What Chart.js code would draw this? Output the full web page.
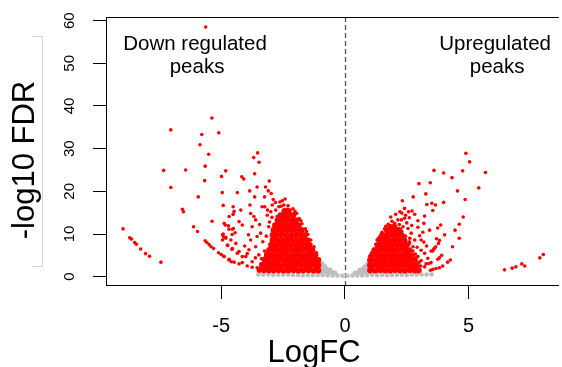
<!DOCTYPE html>
<html>
<head>
<meta charset="utf-8">
<script src="https://cdn.jsdelivr.net/npm/chart.js@4.4.1/dist/chart.umd.min.js"></script>
<style>
  html, body { margin: 0; padding: 0; background: #ffffff; overflow: hidden; }
  #wrap { width: 562px; height: 367px; position: relative; }
</style>
</head>
<body>
<div id="wrap"><canvas id="c" width="562" height="367"></canvas></div>
<script>
// ---------- data ----------
const xTicks = [-5, 0, 5];
const xTickLabels = ['-5', '0', '5'];
const yTicks = [0, 10, 20, 30, 40, 50, 60];
const yTickLabels = ['0', '10', '20', '30', '40', '50', '60'];
const xTitle = 'LogFC';
const yTitle = '-log10 FDR';
const downLabel = ['Down regulated', 'peaks'];
const upLabel = ['Upregulated', 'peaks'];

// significant, down regulated (scattered peaks)
const downPeaks = [
  [-5.63,58.5],[-5.38,37.2],[-7.04,34.4],[-5.79,33.3],[-5.10,33.7],[-5.86,30.9],[-5.51,28.7],
  [-5.65,25.9],[-7.33,24.9],[-6.44,25.0],[-4.82,24.8],[-4.99,23.5],[-5.67,22.5],[-7.04,20.9],
  [-4.96,19.7],[-5.93,18.7],[-4.92,16.7],[-4.52,16.4],[-6.57,15.8],[-6.53,15.2],[-4.52,14.6],
  [-5.37,13.0],[-4.84,12.1],[-6.12,11.7],[-5.96,10.6],[-8.97,11.2],[-8.70,9.1],[-8.63,8.8],
  [-8.50,8.0],[-8.43,7.6],[-8.26,6.5],[-8.06,5.4],[-7.90,4.8],[-7.44,3.4],
  [-5.65,8.4],[-5.58,8.0],[-5.49,7.5],[-5.41,7.0],[-5.31,6.6],[-5.11,5.6],[-5.00,5.2],[-4.90,4.8],
  [-4.69,3.9],[-4.60,3.5],[-4.69,11.1],[-4.95,9.8],[-4.91,9.3],[-4.56,9.9],[-4.51,11.3],[-4.82,9.0],
  [-4.74,7.3],[-4.57,6.4],
  [-3.53,29.0],[-3.69,27.9],[-3.47,26.8],[-4.17,23.4],[-4.09,22.9],[-3.65,24.1],[-3.06,22.4],
  [-3.21,21.0],[-3.10,20.1],[-2.98,19.5],[-3.55,21.0],[-3.85,20.1],[-4.35,19.7],[-3.65,18.7],
  [-3.25,18.7],[-2.90,18.1],[-2.81,17.4],[-2.63,17.5],[-2.53,17.8],[-2.42,18.2],[-3.84,16.8],
  [-3.24,16.4],[-3.13,15.6],[-2.34,15.8],[-2.22,15.6],[-2.06,14.4],[-4.48,15.3],[-4.21,15.6],
  [-3.81,14.8],[-3.68,14.1],[-4.28,12.9],[-4.15,12.1],[-4.71,11.9],[-4.55,11.1],[-4.44,10.3],
  [-4.92,10.0],[-4.82,9.2],[-4.68,14.1],[-4.88,12.5],
  [-3.75,11.7],[-3.61,13.3],[-3.41,10.2],[-3.81,8.6],[-3.61,7.0],[-3.88,6.3],[-3.48,5.1],
  [-4.01,4.7],[-3.75,3.5],[-4.15,3.3],[-4.28,5.9],[-4.41,7.8],[-4.61,8.6],[-3.14,14.4],
  [-3.35,16.4],[-2.94,16.8],[-2.67,16.4],[-2.47,16.8],[-2.74,14.1],[-3.08,11.7],
  [-4.88,4.7],[-4.68,4.1],[-4.48,3.4],[-4.28,3.0],[-3.95,2.5],[-3.75,2.2],[-3.55,2.1],
  [-4.95,8.6],[-4.75,7.4],[-4.55,6.6],[-4.35,5.5],[-4.15,4.7],
  [-3.32,8.2],[-3.25,6.0],[-3.38,4.2],[-3.18,9.5],[-3.05,12.8],[-2.95,13.9],[-3.55,9.4],
  [-3.45,12.2],[-3.90,9.8],[-4.05,7.2],[-3.95,5.4],[-3.62,4.4],
  [-1.15,5.6],[-1.25,7.0],[-1.38,8.6],[-1.50,9.9],[-1.60,11.2],[-1.74,12.4],[-1.85,13.6],
  [-1.95,14.8],[-2.10,15.9],[-2.30,16.6],[-2.58,16.5],[-2.80,15.6],[-3.00,15.2],
  [-1.30,6.0],[-1.55,10.6],[-1.78,13.1],[-2.02,15.3]
];

// significant, down regulated (dense core of the cloud)
const downCore = [
  [-1.08,1.5],[-1.27,1.45],[-1.47,1.55],[-1.68,1.5],[-1.88,1.45],[-2.07,1.55],[-2.28,1.5],
  [-2.48,1.45],[-2.68,1.55],[-2.88,1.5],[-3.07,1.5],[-3.27,1.55],[-3.45,1.6],
  [-1.08,2.7],[-1.18,2.65],[-1.38,2.75],[-1.58,2.7],[-1.78,2.65],[-1.98,2.75],[-2.18,2.7],
  [-2.38,2.7],[-2.58,2.65],[-2.78,2.75],[-2.98,2.7],[-3.18,2.7],[-3.35,2.8],
  [-1.08,3.9],[-1.27,3.85],[-1.48,3.95],[-1.68,3.9],[-1.88,3.85],[-2.08,3.95],[-2.28,3.9],
  [-2.48,3.85],[-2.68,3.95],[-2.88,3.9],[-3.08,3.9],[-3.25,4.0],
  [-1.20,5.0],[-1.38,5.05],[-1.58,4.95],[-1.78,5.0],[-1.98,5.05],[-2.18,4.95],[-2.38,5.0],
  [-2.58,5.05],[-2.78,4.95],[-2.98,5.0],[-3.15,5.1],
  [-1.32,6.2],[-1.48,6.15],[-1.68,6.25],[-1.88,6.2],[-2.08,6.15],[-2.28,6.25],[-2.48,6.2],
  [-2.68,6.15],[-2.88,6.25],[-3.06,6.2],
  [-1.43,7.4],[-1.58,7.35],[-1.78,7.45],[-1.98,7.4],[-2.18,7.35],[-2.38,7.45],[-2.58,7.4],
  [-2.78,7.35],[-2.98,7.45],
  [-1.52,8.5],[-1.72,8.55],[-1.92,8.45],[-2.12,8.5],[-2.32,8.55],[-2.52,8.45],[-2.72,8.5],[-2.92,8.55],
  [-1.63,9.7],[-1.78,9.65],[-1.98,9.75],[-2.18,9.7],[-2.38,9.65],[-2.58,9.75],[-2.78,9.7],[-2.92,9.75],
  [-1.75,10.9],[-1.92,10.85],[-2.12,10.95],[-2.32,10.9],[-2.52,10.85],[-2.72,10.95],[-2.88,10.9],
  [-1.88,12.0],[-2.06,12.05],[-2.26,11.95],[-2.46,12.0],[-2.66,12.05],[-2.82,12.0],
  [-1.98,13.2],[-2.16,13.15],[-2.36,13.25],[-2.56,13.2],[-2.72,13.15],
  [-2.10,14.4],[-2.28,14.45],[-2.44,14.35],[-2.60,14.4],
  [-2.28,15.3],[-2.44,15.35]
];

// significant, up regulated (scattered peaks)
const upPeaks = [
  [4.89,28.9],[5.04,26.9],[3.60,24.9],[3.99,24.3],[4.33,23.2],[4.76,24.8],[5.68,24.4],
  [2.99,21.8],[3.45,22.0],[3.27,19.4],[4.55,20.1],[5.41,20.8],[2.32,17.8],[2.76,18.7],
  [3.31,16.9],[3.51,17.2],[3.66,16.8],[3.99,17.4],[4.86,18.1],[2.41,16.0],[2.57,15.2],
  [2.71,15.4],[2.82,14.6],[3.55,15.5],[2.22,15.2],[2.28,13.3],[2.41,13.7],[2.95,13.1],
  [3.22,14.2],[3.19,12.5],[4.78,14.0],[2.95,11.6],[3.42,10.9],[3.75,11.4],[4.45,10.9],
  [3.02,9.6],[3.70,8.9],[3.82,8.5],[3.19,8.1],[3.30,7.2],[4.35,7.0],[2.92,6.9],[3.08,6.2],
  [3.55,6.0],[3.63,6.7],[3.91,5.0],[3.82,4.4],[3.75,4.1],[4.26,3.9],[4.15,3.4],[3.95,2.5],
  [3.82,2.1],[3.68,1.9],[3.55,1.7],[3.46,1.5],[3.22,2.3],[3.06,2.5],[2.82,2.7],
  [3.87,12.1],[4.62,12.3],[4.03,9.8],[3.78,7.8],[3.67,7.0],[3.59,6.5],[3.48,6.0],[4.62,9.0],
  [3.39,3.1],
  [6.45,1.6],[6.76,2.0],[6.91,2.3],[7.15,3.0],[7.27,2.5],[7.88,4.4],[8.02,5.2],
  [2.14,13.3],[2.01,12.5],[2.35,11.7],[2.55,11.3],[2.68,10.2],[2.82,8.6],[2.61,7.8],[3.08,8.6],
  [3.22,5.5],[2.95,4.7],[3.08,3.8],[3.35,4.3],[3.48,3.3],[3.28,3.0],[2.75,7.0],
  [1.75,12.3],[1.60,11.2],[1.90,13.0],[2.50,12.6],[2.62,9.0],[2.45,14.4],[1.45,9.8],[1.30,8.6],
  [2.85,5.3],[3.15,10.4],[2.05,14.6],[2.20,12.2],[1.85,14.0],[2.60,13.8],[2.30,14.9],[2.70,12.0],
  [1.00,4.8],[1.15,6.3],[1.25,7.6],[1.35,9.0],[1.50,10.4],[1.65,11.8],[2.30,10.6],[2.45,9.5],
  [2.60,8.2],[2.75,6.0],[2.90,4.6],[3.00,3.4],[1.08,5.6],[1.42,9.4]
];

// significant, up regulated (dense core of the cloud)
const upCore = [
  [1.02,1.5],[1.22,1.45],[1.42,1.55],[1.62,1.5],[1.82,1.45],[2.02,1.55],[2.22,1.5],[2.42,1.45],
  [2.62,1.55],[2.82,1.5],[2.98,1.5],
  [1.02,2.7],[1.12,2.65],[1.32,2.75],[1.52,2.7],[1.72,2.65],[1.92,2.75],[2.12,2.7],[2.32,2.65],
  [2.52,2.75],[2.72,2.7],[2.90,2.7],
  [1.02,3.9],[1.22,3.85],[1.42,3.95],[1.62,3.9],[1.82,3.85],[2.02,3.95],[2.22,3.9],[2.42,3.85],
  [2.62,3.95],[2.82,3.9],
  [1.10,5.0],[1.32,5.05],[1.52,4.95],[1.72,5.0],[1.92,5.05],[2.12,4.95],[2.32,5.0],[2.52,5.05],[2.70,4.95],
  [1.20,6.2],[1.40,6.15],[1.60,6.25],[1.80,6.2],[2.00,6.15],[2.20,6.25],[2.40,6.2],[2.60,6.15],
  [1.32,7.4],[1.50,7.35],[1.70,7.45],[1.90,7.4],[2.10,7.35],[2.30,7.45],[2.50,7.4],
  [1.42,8.5],[1.60,8.55],[1.80,8.45],[2.00,8.5],[2.20,8.55],[2.40,8.45],
  [1.55,9.7],[1.72,9.65],[1.92,9.75],[2.12,9.7],[2.30,9.65],
  [1.70,10.9],[1.88,10.85],[2.06,10.95],[2.20,10.9],
  [1.85,11.6],[2.00,11.65]
];

// not significant peaks (grey)
const notSig = [
  [-3.5,0.5],[-3.3,0.45],[-3.1,0.5],[-2.9,0.4],[-2.7,0.45],[-2.5,0.4],[-2.3,0.45],[-2.1,0.4],
  [-1.9,0.4],[-1.7,0.35],[-1.5,0.4],[-1.3,0.35],[-1.1,0.4],[-0.9,0.35],[-0.7,0.3],[-0.5,0.3],
  [-0.3,0.25],[-0.1,0.2],[0.1,0.2],[0.3,0.25],[0.5,0.3],[0.7,0.3],[0.9,0.35],[1.1,0.4],
  [1.3,0.35],[1.5,0.4],[1.7,0.35],[1.9,0.4],[2.1,0.4],[2.3,0.45],[2.5,0.4],[2.7,0.45],
  [2.9,0.45],[3.1,0.5],[3.3,0.5],[3.5,0.55],
  [-0.98,1.1],[-0.88,1.1],[-0.76,1.1],[-0.64,1.05],[-0.52,1.0],[-0.4,0.9],
  [0.4,0.9],[0.52,1.0],[0.64,1.05],[0.76,1.1],[0.88,1.1],[0.98,1.1],
  [-0.96,1.8],[-0.84,1.8],[-0.72,1.75],[-0.6,1.6],
  [0.6,1.6],[0.72,1.75],[0.84,1.8],[0.96,1.8],
  [-0.99,2.5],[-0.9,2.5],[-0.8,2.4],
  [0.8,2.4],[0.9,2.5],[0.99,2.5],
  [-1.0,3.2],[-0.92,3.1],[0.92,3.1],[1.0,3.2]
];

const toXY = arr => arr.map(p => ({ x: p[0], y: p[1] }));

const FONT = "'Liberation Sans', Arial, Helvetica, sans-serif";
Chart.defaults.font.family = FONT;
Chart.defaults.color = '#000';

const RED = '#ff0000';
const GREY = '#bebebe';

const decor = {
  id: 'decor',
  beforeDatasetsDraw(chart) {
    const { ctx, chartArea: a, scales: { x } } = chart;
    ctx.save();
    ctx.strokeStyle = '#555555';
    ctx.lineWidth = 1.3;
    ctx.setLineDash([5, 3]);
    const px = Math.round(x.getPixelForValue(0)) + 0.5;
    ctx.beginPath();
    ctx.moveTo(px, a.top);
    ctx.lineTo(px, a.bottom);
    ctx.stroke();
    ctx.restore();
  },
  afterDraw(chart) {
    const { ctx, chartArea: a, scales: { x, y } } = chart;
    ctx.save();
    // top border of the plot box
    ctx.strokeStyle = '#000';
    ctx.lineWidth = 1;
    ctx.beginPath();
    ctx.moveTo(a.left, a.top + 0.5);
    ctx.lineTo(a.right, a.top + 0.5);
    ctx.stroke();

    // y tick labels, rotated like R's default
    ctx.fillStyle = '#000';
    ctx.font = '15px ' + FONT;
    ctx.textAlign = 'center';
    ctx.textBaseline = 'alphabetic';
    yTicks.forEach((v, i) => {
      ctx.save();
      ctx.translate(a.left - 32, y.getPixelForValue(v));
      ctx.rotate(-Math.PI / 2);
      ctx.fillText(yTickLabels[i], 0, 0);
      ctx.restore();
    });

    // axis titles
    ctx.font = '31px ' + FONT;
    ctx.save();
    ctx.translate(34, 160);
    ctx.rotate(-Math.PI / 2);
    ctx.fillText(yTitle, 0, 0);
    ctx.restore();
    ctx.fillText(xTitle, 314, 362);

    // annotations
    ctx.font = '20.5px ' + FONT;
    const lx = x.getPixelForValue(-6.06), rx = x.getPixelForValue(6.07);
    const l1 = y.getPixelForValue(53.1), l2 = y.getPixelForValue(47.8);
    ctx.fillText(downLabel[0], lx, l1);
    ctx.fillText(downLabel[1], lx + 2, l2);
    ctx.fillText(upLabel[0], rx, l1);
    ctx.fillText(upLabel[1], rx + 2, l2);

    // faint bracket beside the y title
    ctx.strokeStyle = '#d4d4d4';
    ctx.lineWidth = 1;
    ctx.beginPath();
    ctx.moveTo(32, 36.5); ctx.lineTo(42.5, 36.5); ctx.lineTo(42.5, 266.5); ctx.lineTo(32, 266.5);
    ctx.stroke();
    ctx.restore();
  }
};

new Chart(document.getElementById('c'), {
  type: 'scatter',
  data: {
    datasets: [
      { label: 'down', data: toXY(downPeaks), backgroundColor: RED, borderWidth: 0, pointRadius: 1.8, pointHoverRadius: 1.8, order: 1 },
      { label: 'up', data: toXY(upPeaks), backgroundColor: RED, borderWidth: 0, pointRadius: 1.8, pointHoverRadius: 1.8, order: 1 },
      { label: 'down core', data: toXY(downCore), backgroundColor: RED, borderWidth: 0, pointRadius: 3.1, pointHoverRadius: 3.1, order: 2 },
      { label: 'up core', data: toXY(upCore), backgroundColor: RED, borderWidth: 0, pointRadius: 3.1, pointHoverRadius: 3.1, order: 2 },
      { label: 'not significant', data: toXY(notSig), backgroundColor: GREY, borderWidth: 0, pointRadius: 2.3, pointHoverRadius: 2.3, order: 3 }
    ]
  },
  options: {
    responsive: false,
    animation: false,
    devicePixelRatio: 1,
    events: [],
    layout: { padding: { top: 17, right: 0, bottom: 0, left: 0 } },
    plugins: { legend: { display: false }, tooltip: { enabled: false }, title: { display: false } },
    scales: {
      x: {
        type: 'linear',
        min: -9.66,
        max: 8.65,
        afterBuildTicks: s => { s.ticks = xTicks.map(v => ({ value: v })); },
        afterFit: s => { s.height = 82; },
        ticks: {
          font: { size: 20 },
          color: '#000',
          padding: 15,
          maxRotation: 0,
          callback: (v) => xTickLabels[xTicks.indexOf(v)]
        },
        grid: { drawOnChartArea: false, drawTicks: true, tickLength: 14, color: '#000', tickColor: '#000', lineWidth: 1 },
        border: { display: true, color: '#000', width: 1 }
      },
      y: {
        type: 'linear',
        min: -1.95,
        max: 60.85,
        afterBuildTicks: s => { s.ticks = yTicks.map(v => ({ value: v })); },
        afterFit: s => { s.width = 106; },
        ticks: { display: false },
        grid: { drawOnChartArea: false, drawTicks: true, tickLength: 13, color: '#000', tickColor: '#000', lineWidth: 1 },
        border: { display: true, color: '#000', width: 1 }
      }
    }
  },
  plugins: [decor]
});
</script>
</body>
</html>
